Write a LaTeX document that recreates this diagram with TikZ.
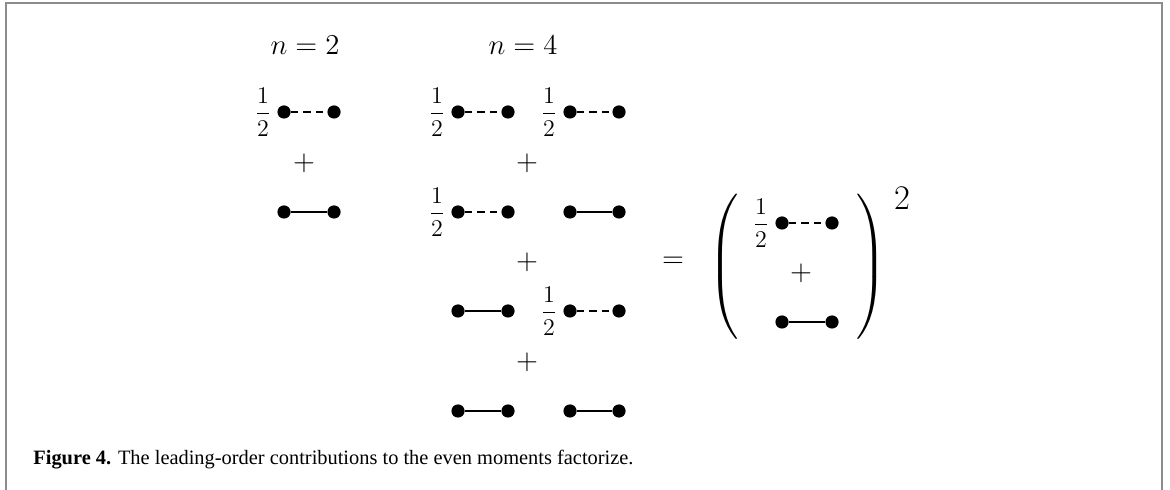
\documentclass[tikz,border=0pt]{standalone}
\usepackage{amsmath}
\usepackage{fontspec}
\newfontfamily\capfont{Liberation Serif}
\usepackage{tikz}
\tikzset{
  pt/.style={circle, fill=black, inner sep=0pt, minimum size=6.6pt},
  half/.style={font=\fontsize{11.5}{13}\selectfont, inner sep=0pt},
  lbl/.style={font=\fontsize{14.5}{16}\selectfont, inner sep=0pt},
  paren/.style={font=\fontsize{16}{18}\selectfont, inner sep=0pt},
  full/.style={line width=1.4pt},
  halfline/.style={line width=1.4pt, dash pattern=on 3.6pt off 2.6pt},
  frame/.style={draw=black!45, line width=1pt},
}

\begin{document}
\begin{tikzpicture}[x=0.5pt, y=-0.5pt]
  \useasboundingbox (0,0) rectangle (1170,490);
  \draw[frame] (6,490) -- (6,3) -- (1162,3) -- (1162,490);

  % headings
  \node[lbl] (h2) at (305,45) {$n=2$};
  \node[lbl] (h4) at (523,45) {$n=4$};

  % n = 2
  \node[half] (f0) at (263,112) {$\dfrac{1}{2}$};
  \node[pt] (a1) at (284,112) {};
  \node[pt] (a2) at (334,112) {};
  \node[lbl] (p0) at (304,163) {$+$};
  \node[pt] (b1) at (284,212) {};
  \node[pt] (b2) at (334,212) {};
  \draw[halfline] (a1) -- (a2);
  \draw[full]     (b1) -- (b2);

  % n = 4, first row
  \node[half] (f1) at (437,112) {$\dfrac{1}{2}$};
  \node[pt] (c1) at (458,112) {};
  \node[pt] (c2) at (508,112) {};
  \node[half] (f2) at (549,112) {$\dfrac{1}{2}$};
  \node[pt] (c3) at (570,112) {};
  \node[pt] (c4) at (619,112) {};
  \draw[halfline] (c1) -- (c2);
  \draw[halfline] (c3) -- (c4);
  \node[lbl] (p1) at (527,163) {$+$};

  % second row
  \node[half] (f3) at (437,212) {$\dfrac{1}{2}$};
  \node[pt] (d1) at (458,212) {};
  \node[pt] (d2) at (508,212) {};
  \node[pt] (d3) at (570,212) {};
  \node[pt] (d4) at (619,212) {};
  \draw[halfline] (d1) -- (d2);
  \draw[full]     (d3) -- (d4);
  \node[lbl] (p2) at (527,262) {$+$};

  % third row
  \node[pt] (e1) at (458,311) {};
  \node[pt] (e2) at (508,311) {};
  \node[half] (f4) at (549,311) {$\dfrac{1}{2}$};
  \node[pt] (e3) at (570,311) {};
  \node[pt] (e4) at (619,311) {};
  \draw[full]     (e1) -- (e2);
  \draw[halfline] (e3) -- (e4);
  \node[lbl] (p3) at (527,362) {$+$};

  % fourth row
  \node[pt] (g1) at (458,411) {};
  \node[pt] (g2) at (508,411) {};
  \node[pt] (g3) at (570,411) {};
  \node[pt] (g4) at (619,411) {};
  \draw[full] (g1) -- (g2);
  \draw[full] (g3) -- (g4);

  % factorized form
  \node[lbl] (eq) at (673,262) {$=$};
  \node[paren] (lp) at (725,268)
    {$\left(\vrule height 33pt depth 33pt width 0pt\right.$};
  \node[paren] (rp) at (870,268)
    {$\left.\vrule height 33pt depth 33pt width 0pt\right)$};
  \node[inner sep=0pt, font=\fontsize{17}{19}\selectfont] (sq) at (902,198) {$2$};
  \node[half] (f5) at (761,223) {$\dfrac{1}{2}$};
  \node[pt] (k1) at (782,223) {};
  \node[pt] (k2) at (832,223) {};
  \node[lbl] (p4) at (801,273) {$+$};
  \node[pt] (m1) at (782,322) {};
  \node[pt] (m2) at (832,322) {};
  \draw[halfline] (k1) -- (k2);
  \draw[full]     (m1) -- (m2);

  % caption
  \node[anchor=base west, inner sep=0pt, font=\capfont\fontsize{10.2}{12}\selectfont] (cap) at (33,465)
    {\textbf{Figure 4.} The leading-order contributions to the even moments factorize.};
\end{tikzpicture}
\end{document}
